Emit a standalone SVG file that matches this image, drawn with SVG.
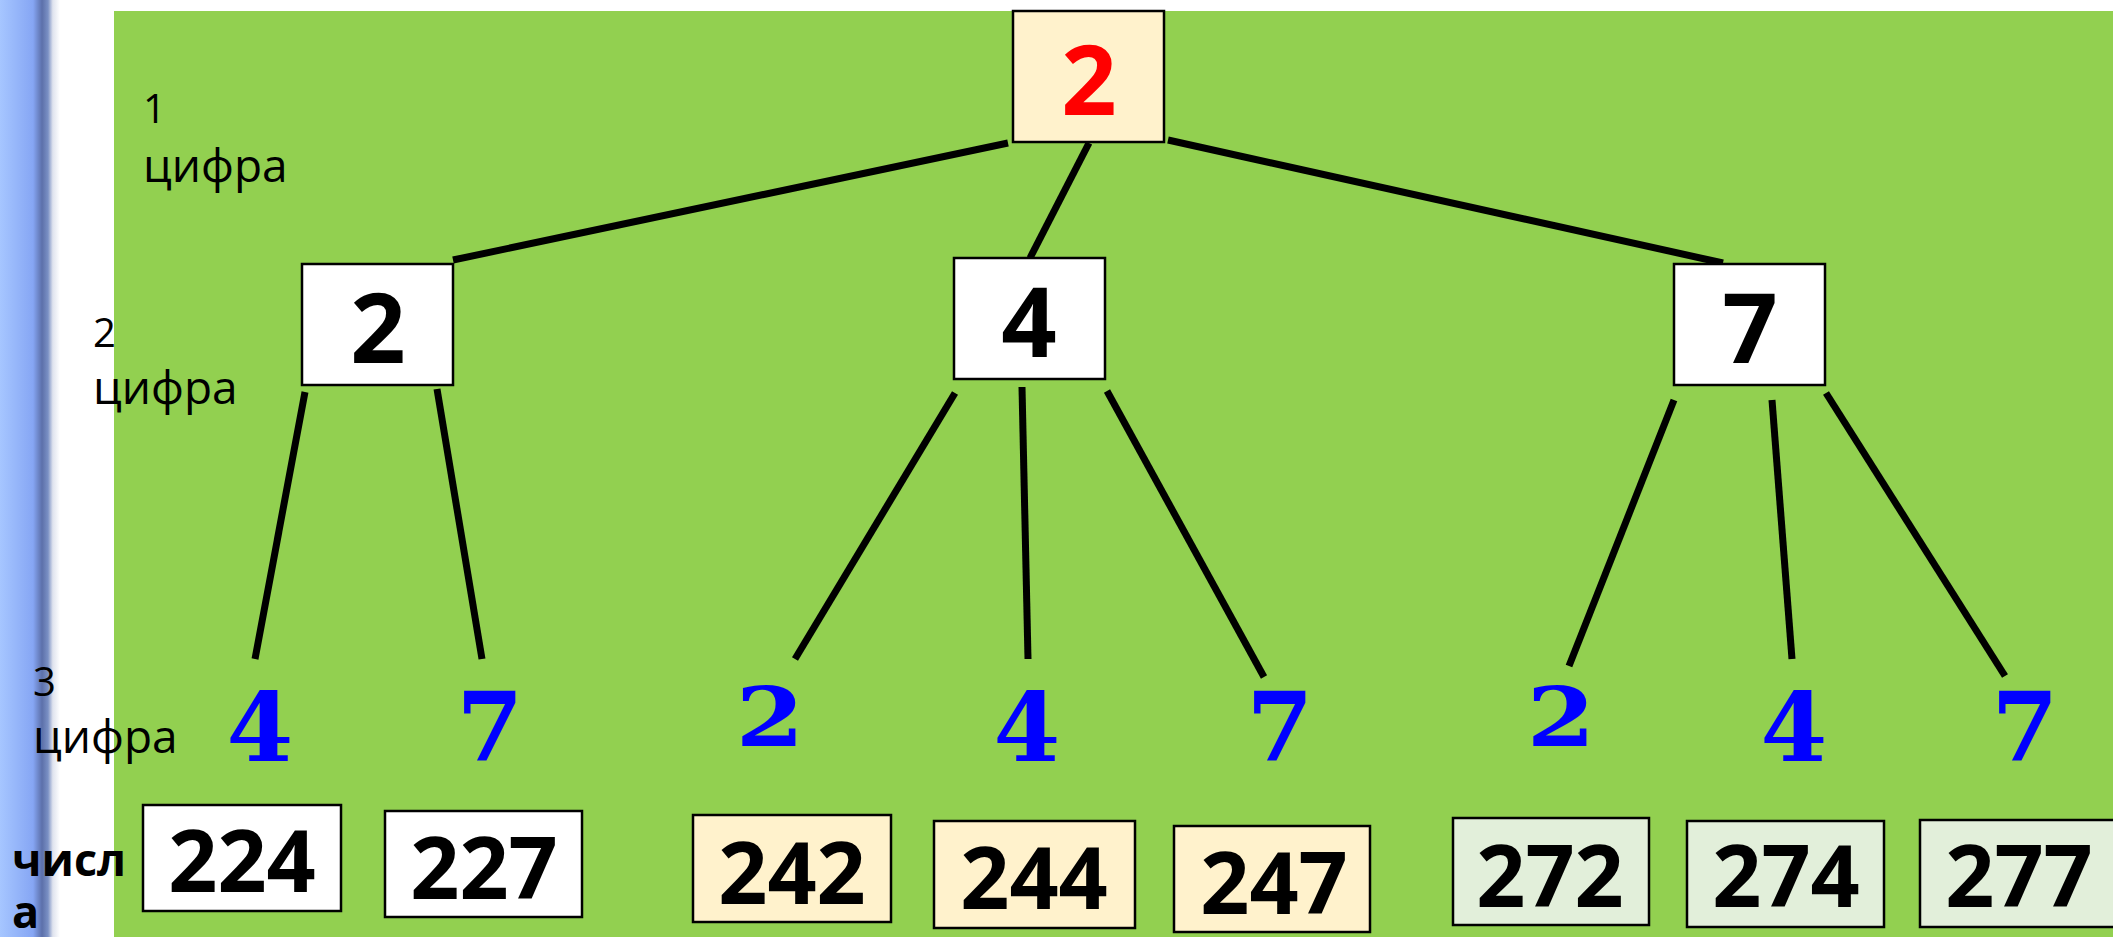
<svg xmlns="http://www.w3.org/2000/svg" width="2113" height="937" viewBox="0 0 2113 937">
  <defs>
    <linearGradient id="edge" x1="0" y1="0" x2="1" y2="0">
      <stop offset="0" stop-color="#a6c6ff"/>
      <stop offset="0.55" stop-color="#86a6f4"/>
      <stop offset="0.7" stop-color="#5c70aa"/>
      <stop offset="0.8" stop-color="#7a90c4"/>
      <stop offset="0.88" stop-color="#dfe3ee"/>
      <stop offset="1" stop-color="#ffffff"/>
    </linearGradient>
    <style>
      .box { stroke: #000; stroke-width: 2.5; }
      .white { fill: #ffffff; }
      .cream { fill: #fff2cc; }
      .mint { fill: #e2efda; }
      .big { font-family: "Open Sans", "Noto Sans", sans-serif; font-weight: 700; font-size: 97px; text-anchor: middle; fill: #000; }
      .num { font-family: "Open Sans", "Noto Sans", sans-serif; font-weight: 700; font-size: 86px; text-anchor: middle; fill: #000; }
      .third { font-family: "DejaVu Serif", "Liberation Serif", serif; font-weight: 700; font-size: 96px; text-anchor: middle; fill: #0000ff; }
      .lbl { font-family: "Open Sans", "Noto Sans", sans-serif; font-size: 46px; fill: #000; }
      .lbldigit { font-family: "Open Sans", "Noto Sans", sans-serif; font-size: 40px; fill: #000; }
      .lblbold { font-family: "Open Sans", "Noto Sans", sans-serif; font-size: 45px; font-weight: 700; fill: #000; }
      #connectors line { stroke: #000; stroke-width: 7; stroke-linecap: butt; }
    </style>
  </defs>

  <!-- page background, left edge strip, green panel -->
  <rect x="0" y="0" width="2113" height="937" fill="#ffffff"/>
  <rect x="0" y="0" width="60" height="937" fill="url(#edge)"/>
  <rect x="114" y="11" width="1999" height="926" fill="#92d050"/>

  <!-- row labels -->
  <g id="labels">
    <text class="lbldigit" x="143" y="123">1</text>
    <text class="lbl" x="143" y="182">цифра</text>
    <text class="lbldigit" x="93" y="347">2</text>
    <text class="lbl" x="93" y="404">цифра</text>
    <text class="lbldigit" x="33" y="696">3</text>
    <text class="lbl" x="33" y="753">цифра</text>
    <text class="lblbold" x="12" y="876">числ</text>
    <text class="lblbold" x="12" y="928">а</text>
  </g>

  <!-- tree edges -->
  <g id="connectors">
    <line x1="1008" y1="143" x2="453" y2="260"/>
    <line x1="1089" y1="143" x2="1030" y2="258"/>
    <line x1="1168" y1="140" x2="1723" y2="263"/>
    <line x1="305" y1="392" x2="255" y2="659"/>
    <line x1="437" y1="389" x2="482" y2="659"/>
    <line x1="955" y1="393" x2="795" y2="659"/>
    <line x1="1022" y1="387" x2="1028" y2="659"/>
    <line x1="1107" y1="391" x2="1264" y2="677"/>
    <line x1="1674" y1="400" x2="1569" y2="666"/>
    <line x1="1772" y1="400" x2="1792" y2="659"/>
    <line x1="1826" y1="393" x2="2005" y2="676"/>
  </g>

  <!-- first digit -->
  <g id="root">
    <rect class="box cream" x="1013" y="11" width="151" height="131"/>
    <text class="big" x="1089" y="115" style="fill:#ff0000">2</text>
  </g>

  <!-- second digit -->
  <g id="d2-2">
    <rect class="box white" x="302" y="264" width="151" height="121"/>
    <text class="big" x="378" y="363">2</text>
  </g>
  <g id="d2-4">
    <rect class="box white" x="954" y="258" width="151" height="121"/>
    <text class="big" x="1029" y="357">4</text>
  </g>
  <g id="d2-7">
    <rect class="box white" x="1674" y="264" width="151" height="121"/>
    <text class="big" x="1750" y="363">7</text>
  </g>

  <!-- third digit -->
  <g id="d3-24"><text class="third" x="260" y="761">4</text></g>
  <g id="d3-27"><text class="third" x="490" y="761">7</text></g>
  <g id="d3-42"><text class="third" transform="translate(770,746) scale(1.2,1)" style="font-size:82px">2</text></g>
  <g id="d3-44"><text class="third" x="1027" y="761">4</text></g>
  <g id="d3-47"><text class="third" x="1280" y="761">7</text></g>
  <g id="d3-72"><text class="third" transform="translate(1561,746) scale(1.2,1)" style="font-size:82px">2</text></g>
  <g id="d3-74"><text class="third" x="1794" y="761">4</text></g>
  <g id="d3-77"><text class="third" x="2025" y="761">7</text></g>

  <!-- resulting numbers -->
  <g id="n224">
    <rect class="box white" x="143" y="805" width="198" height="106"/>
    <text class="num" x="242" y="892">224</text>
  </g>
  <g id="n227">
    <rect class="box white" x="385" y="811" width="197" height="106"/>
    <text class="num" x="484" y="899">227</text>
  </g>
  <g id="n242">
    <rect class="box cream" x="693" y="815" width="198" height="107"/>
    <text class="num" x="792" y="904">242</text>
  </g>
  <g id="n244">
    <rect class="box cream" x="934" y="821" width="201" height="107"/>
    <text class="num" x="1034" y="909">244</text>
  </g>
  <g id="n247">
    <rect class="box cream" x="1174" y="826" width="196" height="106"/>
    <text class="num" x="1274" y="914">247</text>
  </g>
  <g id="n272">
    <rect class="box mint" x="1453" y="818" width="196" height="107"/>
    <text class="num" x="1550" y="907">272</text>
  </g>
  <g id="n274">
    <rect class="box mint" x="1687" y="821" width="197" height="106"/>
    <text class="num" x="1786" y="907">274</text>
  </g>
  <g id="n277">
    <rect class="box mint" x="1920" y="820" width="200" height="107"/>
    <text class="num" x="2019" y="907">277</text>
  </g>
</svg>
